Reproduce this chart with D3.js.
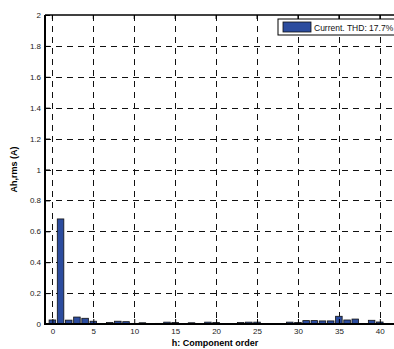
<!DOCTYPE html>
<html lang="en">
<head>
    <meta charset="UTF-8">
    <title>Harmonic spectrum</title>
    <script src="https://d3js.org/d3.v7.min.js"></script>
    <style>
        body { margin: 0; background: #fff; }
        svg { display: block; font-family: "Liberation Sans", Arial, sans-serif; }
        .tick text { fill: #222; font-size: 8px; }
        .axis-label { font-size: 9px; font-weight: bold; }
    </style>
</head>
<body>
<svg id="chart" width="394" height="349"></svg>
<script>
    // harmonic order and rms amplitude (A)
    const orders = d3.range(0, 42);
    const amps = [0.026, 0.68, 0.025, 0.045, 0.037, 0.018, 0.003, 0.010, 0.018, 0.015,
                  0.004, 0.008, 0.003, 0.004, 0.012, 0.010, 0.003, 0.008, 0.003, 0.012,
                  0.010, 0.003, 0.002, 0.010, 0.012, 0.012, 0.003, 0.002, 0.002, 0.012,
                  0.010, 0.022, 0.022, 0.020, 0.020, 0.050, 0.026, 0.032, 0.003, 0.024,
                  0.013, 0.003];
    const xTicks = [0, 5, 10, 15, 20, 25, 30, 35, 40];
    const yTicks = [0, 0.2, 0.4, 0.6, 0.8, 1, 1.2, 1.4, 1.6, 1.8, 2];
    const legendText = 'Current. THD: 17.7%';

    const svg = d3.select('#chart');
    const pLeft = 45, pTop = 15, pBottom = 324, pRight = 394;

    const x = d3.scaleLinear().domain([-0.9, 41]).range([pLeft, 388]);
    const y = d3.scaleLinear().domain([0, 2]).range([pBottom, pTop]);

    // grid
    const grid = svg.append('g').attr('stroke', '#111').attr('stroke-width', 1)
        .attr('stroke-dasharray', '6,5');
    grid.selectAll('.gx').data(xTicks).enter().append('line')
        .attr('x1', d => Math.round(x(d)) + 0.5).attr('x2', d => Math.round(x(d)) + 0.5)
        .attr('y1', pTop).attr('y2', pBottom);
    grid.selectAll('.gy').data(yTicks.slice(1, -1)).enter().append('line')
        .attr('y1', d => Math.round(y(d)) + 0.5).attr('y2', d => Math.round(y(d)) + 0.5)
        .attr('x1', pLeft).attr('x2', pRight);

    // bars
    const bw = 0.8;
    svg.append('g').selectAll('rect')
        .data(orders.map((h, i) => ({ h: h, a: amps[i] })))
        .enter().append('rect')
        .attr('x', d => x(d.h - bw / 2))
        .attr('width', x(bw) - x(0))
        .attr('y', d => y(d.a))
        .attr('height', d => pBottom - y(d.a))
        .attr('fill', '#2c4c9e')
        .attr('stroke', '#111')
        .attr('stroke-width', 0.8);

    // axes
    const yAxis = d3.axisLeft(y).tickValues(yTicks).tickFormat(d3.format('~g'))
        .tickSizeInner(-5).tickSizeOuter(0).tickPadding(4);
    const gy = svg.append('g').attr('transform', `translate(${pLeft},0)`).call(yAxis);
    gy.select('.domain').remove();
    gy.selectAll('.tick line').attr('stroke', '#000');

    const xAxis = d3.axisBottom(x).tickValues(xTicks).tickSizeInner(-5).tickSizeOuter(0).tickPadding(4);
    const gx = svg.append('g').attr('transform', `translate(0,${pBottom})`).call(xAxis);
    gx.select('.domain').remove();
    gx.selectAll('.tick line').attr('stroke', '#000');

    // top ticks
    svg.append('g').selectAll('line').data(xTicks).enter().append('line')
        .attr('x1', d => x(d)).attr('x2', d => x(d))
        .attr('y1', pTop).attr('y2', pTop + 4).attr('stroke', '#000');

    // frame
    svg.append('line').attr('x1', pLeft).attr('x2', pRight).attr('y1', pTop).attr('y2', pTop)
        .attr('stroke', '#000').attr('stroke-width', 1.5);
    svg.append('line').attr('x1', pLeft).attr('x2', pRight).attr('y1', pBottom).attr('y2', pBottom)
        .attr('stroke', '#000').attr('stroke-width', 2);
    svg.append('line').attr('x1', pLeft).attr('x2', pLeft).attr('y1', pTop).attr('y2', pBottom + 1)
        .attr('stroke', '#000').attr('stroke-width', 2);

    // legend
    const lg = svg.append('g').attr('transform', 'translate(278,19)');
    lg.append('rect').attr('width', 130).attr('height', 16)
        .attr('fill', '#fff').attr('stroke', '#000').attr('stroke-width', 1);
    lg.append('rect').attr('x', 5).attr('y', 3).attr('width', 28).attr('height', 10)
        .attr('fill', '#2c4c9e').attr('stroke', '#111').attr('stroke-width', 0.8);
    lg.append('text').attr('x', 36).attr('y', 11.5).style('font-size', '8.5px').attr('fill', '#111')
        .text(legendText);

    // labels
    svg.append('text').attr('class', 'axis-label')
        .attr('transform', `translate(17,${(pTop + pBottom) / 2}) rotate(-90)`)
        .attr('text-anchor', 'middle').text('Ah,rms (A)');
    svg.append('text').attr('class', 'axis-label')
        .attr('x', 215).attr('y', 346).attr('text-anchor', 'middle').text('h: Component order');
</script>
</body>
</html>
